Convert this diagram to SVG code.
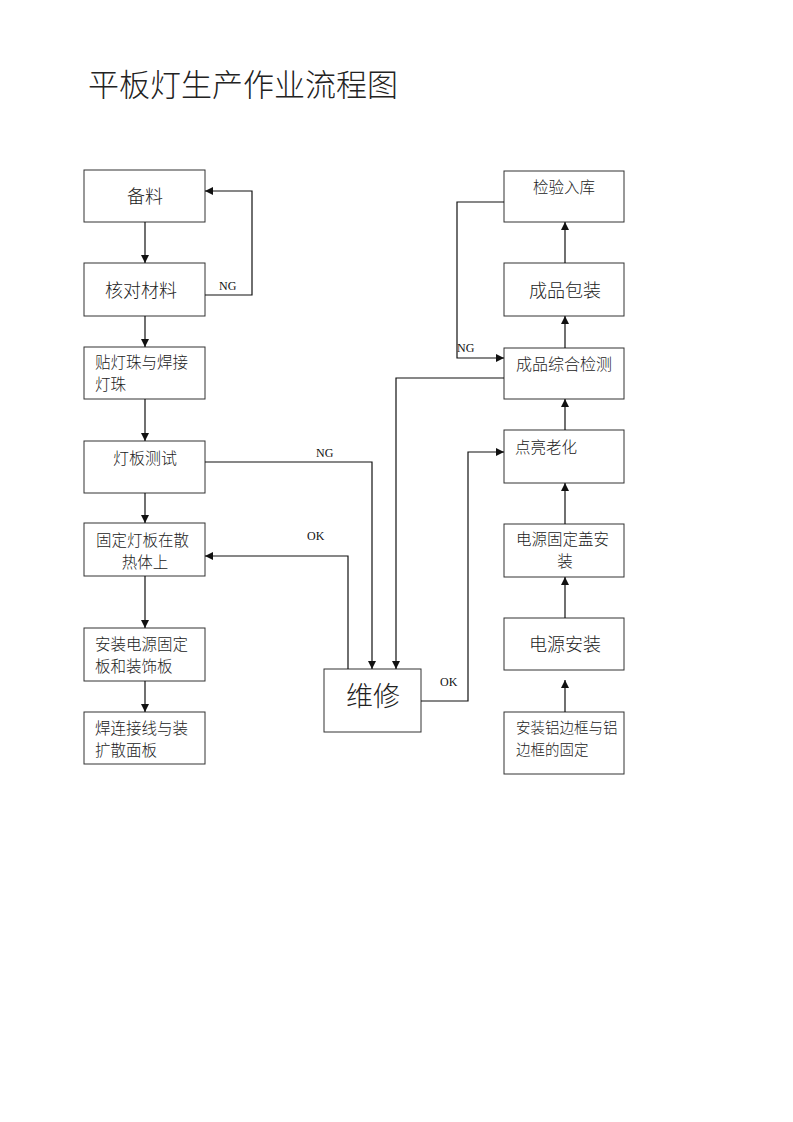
<svg xmlns="http://www.w3.org/2000/svg" width="793" height="1122" viewBox="0 0 793 1122">
<style>
.box{fill:#fff;stroke:#333;stroke-width:1}
.t{font-family:"Noto Sans CJK SC","Noto Sans",sans-serif;fill:#222;font-weight:300}
.c{text-anchor:middle}
.lbl{font-family:"Liberation Serif",serif;font-size:12px;fill:#111}
.ln{fill:none;stroke:#111;stroke-width:1.2}
</style>
<defs>
<marker id="ah" viewBox="0 0 10 10" refX="10" refY="5" markerWidth="8" markerHeight="8" markerUnits="userSpaceOnUse" orient="auto">
<path d="M0,0 L10,5 L0,10 z" fill="#111"/>
</marker>
</defs>
<rect width="793" height="1122" fill="#fff"/>
<text x="88" y="96" class="t" font-size="31">平板灯生产作业流程图</text>

<g id="n1"><rect class="box" x="84" y="170" width="121" height="52"/><text class="t c" x="145" y="203" font-size="18">备料</text></g>
<g id="n2"><rect class="box" x="84" y="263" width="121" height="53"/><text class="t c" x="141" y="297" font-size="18">核对材料</text></g>
<g id="n3"><rect class="box" x="84" y="347" width="121" height="52"/><text class="t" x="95" y="368" font-size="15.5">贴灯珠与焊接</text><text class="t" x="95" y="390" font-size="15.5">灯珠</text></g>
<g id="n4"><rect class="box" x="84" y="441" width="121" height="52"/><text class="t c" x="145" y="464" font-size="16">灯板测试</text></g>
<g id="n5"><rect class="box" x="84" y="523" width="121" height="53"/><text class="t" x="96" y="546" font-size="15.5">固定灯板在散</text><text class="t c" x="145" y="568" font-size="15.5">热体上</text></g>
<g id="n6"><rect class="box" x="84" y="628" width="121" height="53"/><text class="t" x="95" y="650" font-size="15.5">安装电源固定</text><text class="t" x="95" y="672" font-size="15.5">板和装饰板</text></g>
<g id="n7"><rect class="box" x="84" y="712" width="121" height="52"/><text class="t" x="95" y="734" font-size="15.5">焊连接线与装</text><text class="t" x="95" y="756" font-size="15.5">扩散面板</text></g>

<g id="n8"><rect class="box" x="324" y="669" width="97" height="63"/><text class="t c" x="373" y="706" font-size="27">维修</text></g>

<g id="n9"><rect class="box" x="504" y="171" width="120" height="51"/><text class="t c" x="564" y="193" font-size="15.5">检验入库</text></g>
<g id="n10"><rect class="box" x="504" y="263" width="120" height="53"/><text class="t c" x="565" y="297" font-size="18">成品包装</text></g>
<g id="n11"><rect class="box" x="504" y="348" width="120" height="51"/><text class="t c" x="564" y="370" font-size="16">成品综合检测</text></g>
<g id="n12"><rect class="box" x="504" y="430" width="120" height="53"/><text class="t" x="515" y="453" font-size="15.5">点亮老化</text></g>
<g id="n13"><rect class="box" x="504" y="524" width="120" height="53"/><text class="t" x="516" y="545" font-size="15.5">电源固定盖安</text><text class="t c" x="565" y="567" font-size="15.5">装</text></g>
<g id="n14"><rect class="box" x="504" y="618" width="120" height="52"/><text class="t c" x="565" y="651" font-size="18">电源安装</text></g>
<g id="n15"><rect class="box" x="504" y="712" width="120" height="62"/><text class="t" x="516" y="733" font-size="14.5">安装铝边框与铝</text><text class="t" x="516" y="755" font-size="14.5">边框的固定</text></g>

<g id="connectors">
<path class="ln" d="M145,222 V263" marker-end="url(#ah)"/>
<path class="ln" d="M205,295 H252 V191 H205" marker-end="url(#ah)"/>
<path class="ln" d="M145,316 V347" marker-end="url(#ah)"/>
<path class="ln" d="M145,399 V441" marker-end="url(#ah)"/>
<path class="ln" d="M145,493 V523" marker-end="url(#ah)"/>
<path class="ln" d="M145,576 V628" marker-end="url(#ah)"/>
<path class="ln" d="M145,681 V712" marker-end="url(#ah)"/>
<path class="ln" d="M205,462 H372 V669" marker-end="url(#ah)"/>
<path class="ln" d="M348,669 V556 H205" marker-end="url(#ah)"/>
<path class="ln" d="M504,378 H396 V669" marker-end="url(#ah)"/>
<path class="ln" d="M421,701 H468 V452 H504" marker-end="url(#ah)"/>
<path class="ln" d="M504,202 H457 V358 H504" marker-end="url(#ah)"/>
<path class="ln" d="M565,263 V222" marker-end="url(#ah)"/>
<path class="ln" d="M565,348 V316" marker-end="url(#ah)"/>
<path class="ln" d="M565,430 V399" marker-end="url(#ah)"/>
<path class="ln" d="M565,524 V483" marker-end="url(#ah)"/>
<path class="ln" d="M565,618 V577" marker-end="url(#ah)"/>
<path class="ln" d="M565,712 V680" marker-end="url(#ah)"/>
<text class="lbl" x="219" y="290">NG</text>
<text class="lbl" x="316" y="457">NG</text>
<text class="lbl" x="307" y="540">OK</text>
<text class="lbl" x="440" y="686">OK</text>
<text class="lbl" x="457" y="352">NG</text>
</g>
</svg>
